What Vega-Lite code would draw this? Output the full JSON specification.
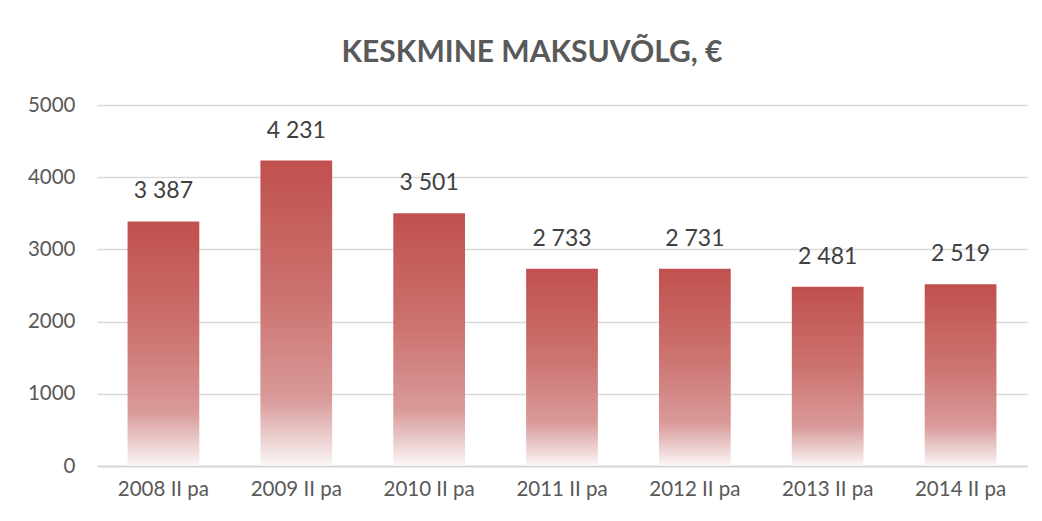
{
  "$schema": "https://vega.github.io/schema/vega-lite/v6.json",
  "width": 930,
  "height": 361,
  "autosize": {"type": "none"},
  "padding": {"left": 97, "top": 105, "right": 15, "bottom": 55},
  "background": "white",
  "title": {
    "text": "KESKMINE MAKSUVÕLG, €",
    "font": "Lato",
    "fontSize": 30,
    "fontWeight": "bold",
    "color": "#595959",
    "offset": 3,
    "dx": -30,
    "anchor": "middle",
    "baseline": "alphabetic"
  },
  "config": {
    "view": {"stroke": null},
    "locale": {"number": {"decimal": ",", "thousands": " ", "grouping": [3], "currency": ["", " €"]}}
  },
  "data": {
    "values": [
      {"period": "2008 II pa", "value": 3387},
      {"period": "2009 II pa", "value": 4231},
      {"period": "2010 II pa", "value": 3501},
      {"period": "2011 II pa", "value": 2733},
      {"period": "2012 II pa", "value": 2731},
      {"period": "2013 II pa", "value": 2481},
      {"period": "2014 II pa", "value": 2519}
    ]
  },
  "encoding": {
    "x": {
      "field": "period",
      "type": "nominal",
      "sort": null,
      "scale": {"paddingInner": 0.46, "paddingOuter": 0.23},
      "axis": {
        "title": null,
        "labelAngle": 0,
        "labelFont": "Lato",
        "labelFontSize": 20.5,
        "labelColor": "#595959",
        "labelPadding": 13,
        "ticks": false,
        "domainColor": "#D0D0D0",
        "domainWidth": 1.5,
        "grid": false
      }
    },
    "y": {
      "field": "value",
      "type": "quantitative",
      "scale": {"domain": [0, 5000]},
      "axis": {
        "title": null,
        "values": [0, 1000, 2000, 3000, 4000, 5000],
        "format": "d",
        "labelFont": "Lato",
        "labelFontSize": 20.5,
        "labelColor": "#595959",
        "labelPadding": 22,
        "ticks": false,
        "domain": false,
        "gridColor": "#D9D9D9",
        "gridWidth": 1.3
      }
    }
  },
  "layer": [
    {
      "mark": {
        "type": "bar",
        "color": {
          "gradient": "linear",
          "x1": 0, "y1": 0, "x2": 0, "y2": 1,
          "stops": [
            {"offset": 0, "color": "#C0504D"},
            {"offset": 0.45, "color": "#CC7370"},
            {"offset": 0.78, "color": "#D99A99"},
            {"offset": 0.9, "color": "#EACCCC"},
            {"offset": 1, "color": "#FBF6F6"}
          ]
        }
      }
    },
    {
      "mark": {
        "type": "text",
        "font": "Lato",
        "fontSize": 23,
        "color": "#404040",
        "baseline": "alphabetic",
        "dy": -23
      },
      "encoding": {
        "text": {"field": "value", "type": "quantitative", "format": ","}
      }
    }
  ]
}
